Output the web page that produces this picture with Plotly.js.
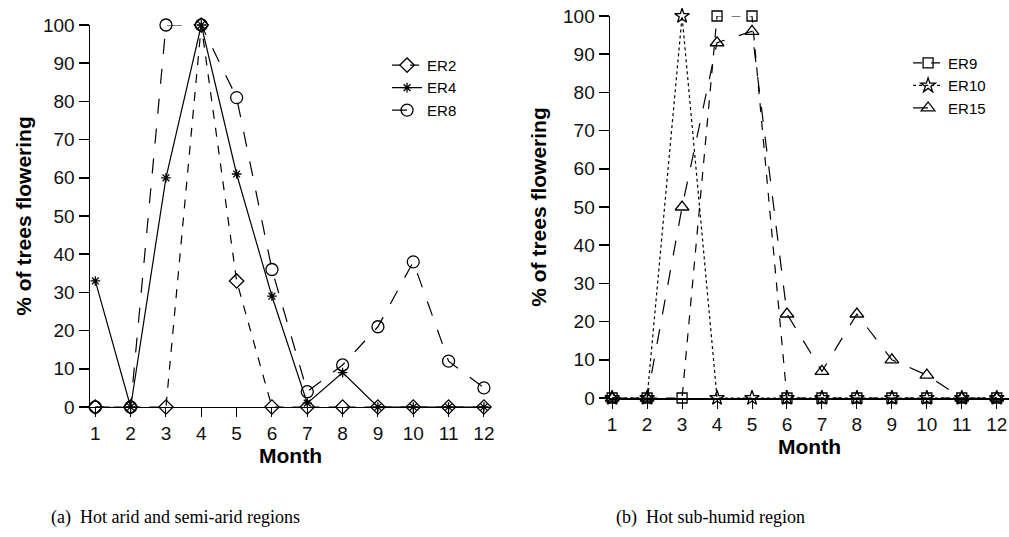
<!DOCTYPE html>
<html>
<head>
<meta charset="utf-8">
<script src="https://cdn.plot.ly/plotly-3.0.1.min.js"></script>
<style>
html,body{margin:0;padding:0;background:#fff;}
#chart{width:1009px;height:537px;}
</style>
</head>
<body>
<div id="chart"></div>
<script>
// Data
const months = [1,2,3,4,5,6,7,8,9,10,11,12];
const monthTicks = ['1','2','3','4','5','6','7','8','9','10','11','12'];
// (a) Hot arid and semi-arid regions
const er2 = [0,0,0,100,33,0,0,0,0,0,0,0];
const er4 = [33,0,60,100,61,29,1,9,0,0,0,0];
const er8 = [0,0,100,100,81,36,4,11,21,38,12,5];
// (b) Hot sub-humid region
const er9 = [0,0,0,100,100,0,0,0,0,0,0,0];
const er10 = [0,0,100,0,0,0,0,0,0,0,0,0];
const er15 = [0,0,50,93,96,22,7,22,10,6,0,0];
const yTicks = [0,10,20,30,40,50,60,70,80,90,100];

const black = '#000';
function tr(name, y, xa, ya, leg, dash, symbol, size){
  return {
    x: months, y: y, name: name, xaxis: xa, yaxis: ya, legend: leg,
    type: 'scatter', mode: 'lines+markers', cliponaxis: false,
    line: {color: black, width: 1.2, dash: dash},
    marker: {symbol: symbol, size: size, color: black, line: {color: black, width: 1.3}}
  };
}

const data = [
  tr('ER2', er2, 'x', 'y', 'legend', 'dash', 'diamond-open', 11),
  tr('ER4', er4, 'x', 'y', 'legend', 'solid', 'asterisk-open', 8),
  tr('ER8', er8, 'x', 'y', 'legend', 'longdash', 'circle-open', 12),
  tr('ER9', er9, 'x2', 'y2', 'legend2', 'dash', 'square-open', 10),
  tr('ER10', er10, 'x2', 'y2', 'legend2', 'dot', 'star-open', 11),
  tr('ER15', er15, 'x2', 'y2', 'legend2', 'longdash', 'triangle-up-open', 12)
];

const tickFont = {family: 'Liberation Sans, Arial, sans-serif', size: 19, color: '#111'};
const titleFont = {family: 'Liberation Sans, Arial, sans-serif', size: 21, color: '#000', weight: 'bold'};

function xAxis(domain, range){
  return {
    domain: domain, range: range, showgrid: false, zeroline: false,
    showline: true, linecolor: black, linewidth: 1.5,
    ticks: 'outside', ticklen: 9, tickcolor: black, tickwidth: 1,
    tickmode: 'array', tickvals: months, ticktext: monthTicks,
    tickfont: tickFont, automargin: false, ticklabeloverflow: 'allow',
    title: {text: '<b>Month</b>', font: titleFont, standoff: 2}
  };
}
function yAxis(domain, anchor, standoff){
  return {
    domain: domain, range: [0, 100], anchor: anchor, showgrid: false, zeroline: false,
    showline: true, linecolor: black, linewidth: 1.5,
    ticks: 'outside', ticklen: 10, tickcolor: black, tickwidth: 1.5,
    tickmode: 'array', tickvals: yTicks,
    tickfont: tickFont, automargin: false,
    title: {text: '<b>% of trees flowering</b>', font: titleFont, standoff: standoff}
  };
}

const legendFont = {family: 'Liberation Sans, Arial, sans-serif', size: 15, color: '#000'};

const layout = {
  width: 1009, height: 537,
  margin: {l: 0, r: 0, t: 0, b: 0},
  paper_bgcolor: '#fff', plot_bgcolor: '#fff',
  showlegend: true,
  xaxis: Object.assign(xAxis([0.0892, 0.4866], [0.85, 12.2]), {anchor: 'y'}),
  yaxis: yAxis([0.2421, 0.9534], 'x', 5),
  xaxis2: Object.assign(xAxis([0.6046, 1.0], [0.94, 12.35]), {anchor: 'y2'}),
  yaxis2: yAxis([0.2588, 0.9702], 'x2', 10),
  legend: {
    x: 0.3836, y: 0.909, xanchor: 'left', yanchor: 'top',
    bgcolor: 'rgba(0,0,0,0)', borderwidth: 0,
    font: legendFont, tracegroupgap: 0, itemwidth: 30
  },
  legend2: {
    x: 0.9, y: 0.913, xanchor: 'left', yanchor: 'top',
    bgcolor: 'rgba(0,0,0,0)', borderwidth: 0,
    font: legendFont, tracegroupgap: 0, itemwidth: 30
  },
  annotations: [
    {text: '(a)  Hot arid and semi-arid regions', xref: 'paper', yref: 'paper',
     x: 175/1009, y: 1 - 517/537, xanchor: 'center', yanchor: 'middle', showarrow: false,
     font: {family: 'Liberation Serif, Times New Roman, serif', size: 18, color: '#000'}},
    {text: '(b)  Hot sub-humid region', xref: 'paper', yref: 'paper',
     x: 710/1009, y: 1 - 517/537, xanchor: 'center', yanchor: 'middle', showarrow: false,
     font: {family: 'Liberation Serif, Times New Roman, serif', size: 18, color: '#000'}}
  ]
};

Plotly.newPlot('chart', data, layout, {displayModeBar: false, staticPlot: true});
</script>
</body>
</html>
